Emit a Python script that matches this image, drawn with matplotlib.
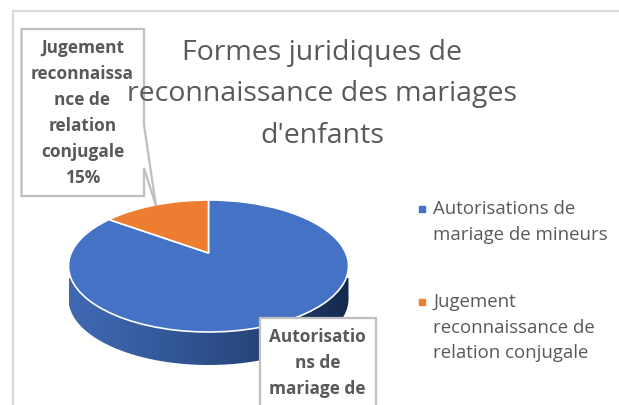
import numpy as np
import matplotlib
matplotlib.use('Agg')
import matplotlib.pyplot as plt
from matplotlib.colors import LinearSegmentedColormap
from matplotlib.patches import Polygon
from matplotlib.transforms import Affine2D, Transform

title = "Formes juridiques de\nreconnaissance des mariages\nd'enfants"
categories = ["Autorisations de\nmariage de mineurs", "Jugement\nreconnaissance de\nrelation conjugale"]
values = [85, 15]
colors = ['#4472C4', '#ED7D31']
label_orange = "Jugement\nreconnaissa\nnce de\nrelation\nconjugale\n15%"
label_blue = "Autorisatio\nns de\nmariage de"  # rest of this label is outside the crop

TEXT = '#595959'
GRID = '#BFBFBF'

# pie geometry in pixels
cx, cy, rx, ry = 208.5, 266, 140, 66
depth = 33
tilt = 0.197  # moves the apex up, like the 3d perspective does


class TiltTransform(Transform):
    input_dims = 2
    output_dims = 2

    def transform_non_affine(self, xy):
        xy = np.asarray(xy, dtype=float)
        w = 1 + tilt * xy[:, 1]
        return np.column_stack([xy[:, 0] * np.sqrt(1 - tilt ** 2) / w, (xy[:, 1] + tilt) / w])


plt.rcParams['font.family'] = ['Open Sans', 'DejaVu Sans']
fig = plt.figure(figsize=(6.19, 4.05), dpi=100)
ax = fig.add_axes([0, 0, 1, 1])

# 3d side wall, gradient clipped to the lower half of the disc
t = np.linspace(0, np.pi, 200)
wall = np.concatenate([
    np.column_stack([cx + rx * np.cos(t), cy + depth + ry * np.sin(t)]),
    np.column_stack([cx - rx * np.cos(t), cy + 12 + 0 * t]),
])
cmap = LinearSegmentedColormap.from_list('wall', ['#4169B3', '#34599B', '#27457A', '#14294E'])
im = ax.imshow(np.linspace(0, 1, 256).reshape(1, -1), cmap=cmap, aspect='auto',
               extent=[cx - rx, cx + rx, cy + depth + ry, cy], zorder=1)
im.set_clip_path(Polygon(wall, transform=ax.transData))

wedges, _ = ax.pie(values, colors=colors, startangle=90 + 360 * values[1] / sum(values), labels=None,
                   wedgeprops=dict(edgecolor='white', linewidth=1.2))
to_pixels = TiltTransform() + Affine2D().scale(rx, -ry).translate(cx, cy) + ax.transData
for w in wedges:
    w.set_transform(to_pixels)
    w.set_zorder(2)

ax.set_aspect('auto')
ax.set_xlim(0, 619)
ax.set_ylim(405, 0)

# chart frame, only top and left are in the crop
ax.plot([12.5, 12.5, 619], [405, 10.5, 10.5], color='#D9D9D9', lw=1.6, zorder=0)

# callouts
ax.add_patch(Polygon([(21.5, 29), (144, 29), (144, 125), (156, 206), (144, 168), (144, 196), (21.5, 196)],
                     closed=True, fc='white', ec=GRID, lw=1.6, zorder=3))
ax.add_patch(Polygon([(259.5, 318), (376, 318), (376, 420), (259.5, 420)],
                     closed=True, fc='white', ec=GRID, lw=1.6, zorder=3))
ax.text(82.5, 113, label_orange, ha='center', va='center', fontsize=12.4, fontweight='bold',
        color=TEXT, linespacing=1.58, zorder=4)
ax.text(317.5, 328, label_blue, ha='center', va='top', fontsize=12.4, fontweight='bold',
        color=TEXT, linespacing=1.58, zorder=4)

ax.text(322, 94.5, title, ha='center', va='center', fontsize=20.5, color=TEXT, linespacing=1.62, zorder=5)

# legend, square sits on the first line of each entry
legend_tops = [200, 293]
for name, col, top in zip(categories, colors, legend_tops):
    ax.plot(421.5, top + 9, marker='s', ms=5, color=col, ls='none', zorder=4)
    ax.text(433, top, name, ha='left', va='top', fontsize=13.4, color=TEXT, linespacing=1.55, zorder=4)

fig.savefig('out.png', dpi=100)
